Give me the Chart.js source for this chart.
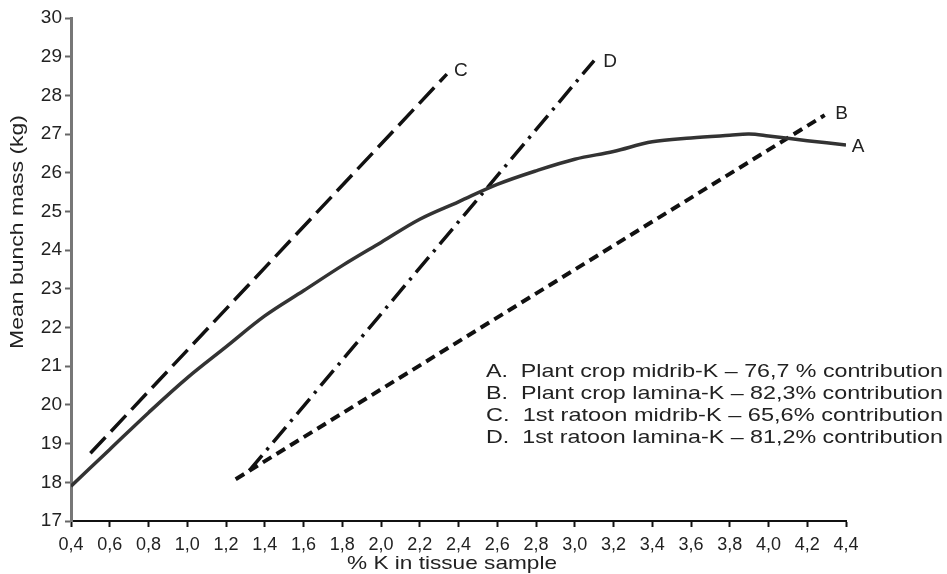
<!DOCTYPE html>
<html>
<head>
<meta charset="utf-8">
<title>Mean bunch mass vs % K in tissue sample</title>
<script src="https://cdn.jsdelivr.net/npm/chart.js@4/dist/chart.umd.min.js"></script>
<style>
    html, body { margin: 0; padding: 0; background: #fff; }
    canvas { display: block; }
</style>
</head>
<body>
<canvas id="kChart" width="947" height="574"></canvas>
<script>
// Axis ticks
const X_TICKS = [0.4, 0.6, 0.8, 1.0, 1.2, 1.4, 1.6, 1.8, 2.0, 2.2, 2.4, 2.6, 2.8, 3.0, 3.2, 3.4, 3.6, 3.8, 4.0, 4.2, 4.4];
const Y_TICKS = [17, 18, 19, 20, 21, 22, 23, 24, 25, 26, 27, 28, 29, 30];

// A: plant crop midrib-K (curve)
const A_X = [0.4, 0.6, 0.8, 1.0, 1.2, 1.4, 1.6, 1.8, 2.0, 2.2, 2.4, 2.6, 2.8, 3.0, 3.2, 3.4, 3.6, 3.8, 3.9, 4.0, 4.2, 4.4];
const A_Y = [17.9, 18.85, 19.8, 20.7, 21.5, 22.3, 22.95, 23.6, 24.2, 24.8, 25.25, 25.7, 26.05, 26.35, 26.55, 26.8, 26.9, 26.97, 27.0, 26.95, 26.83, 26.72];

// B: plant crop lamina-K (straight)
const B_X = [1.25, 4.29];
const B_Y = [18.08, 27.49];

// C: 1st ratoon midrib-K (straight)
const C_X = [0.5, 2.34];
const C_Y = [18.75, 28.55];

// D: 1st ratoon lamina-K (straight)
const D_X = [1.32, 3.1];
const D_Y = [18.3, 28.9];

const SERIES_NAMES = ['A', 'B', 'C', 'D'];
const LEGEND_LINES = [
    'A.  Plant crop midrib-K \u2013 76,7 % contribution',
    'B.  Plant crop lamina-K \u2013 82,3% contribution',
    'C.  1st ratoon midrib-K \u2013 65,6% contribution',
    'D.  1st ratoon lamina-K \u2013 81,2% contribution'
];

const FONT = "'Liberation Sans', Arial, sans-serif";
const INK = '#222';

function toPoints(xs, ys) {
    return xs.map((x, i) => ({ x: x, y: ys[i] }));
}

function fmtComma(v) {
    return v.toFixed(1).replace('.', ',');
}

// draw text left-aligned at x, stretched horizontally to a given width
function fitText(ctx, text, x, y, width, size) {
    ctx.font = size + 'px ' + FONT;
    const w = ctx.measureText(text).width;
    ctx.save();
    ctx.translate(x, y);
    ctx.scale(width / w, 1);
    ctx.textAlign = 'left';
    ctx.fillText(text, 0, 0);
    ctx.restore();
}

const annotations = {
    id: 'annotations',
    afterDatasetsDraw(chart) {
        const ctx = chart.ctx;
        ctx.save();
        ctx.fillStyle = INK;
        ctx.textBaseline = 'middle';

        // series letters beside the line ends
        const offsets = [[12, 2], [17, -1], [14, -3], [16, 1]];
        chart.data.datasets.forEach((ds, i) => {
            const meta = chart.getDatasetMeta(i);
            const last = meta.data[meta.data.length - 1];
            ctx.font = '19px ' + FONT;
            ctx.textAlign = 'center';
            ctx.fillText(SERIES_NAMES[i], last.x + offsets[i][0], last.y + offsets[i][1]);
        });

        // key text
        LEGEND_LINES.forEach((line, i) => {
            fitText(ctx, line, 486, 372 + i * 22, 457, 19);
        });

        // axis titles
        fitText(ctx, '% K in tissue sample', 347, 564, 210, 19);

        ctx.translate(18, 232);
        ctx.rotate(-Math.PI / 2);
        fitText(ctx, 'Mean bunch mass (kg)', -117, 0, 234, 19);
        ctx.restore();
    }
};

new Chart(document.getElementById('kChart'), {
    type: 'line',
    data: {
        datasets: [
            {
                label: 'A',
                data: toPoints(A_X, A_Y),
                borderColor: '#333',
                borderWidth: 3.5,
                tension: 0.35,
                pointRadius: 0
            },
            {
                label: 'B',
                data: toPoints(B_X, B_Y),
                borderColor: '#111',
                borderWidth: 4,
                borderDash: [10, 6],
                pointRadius: 0
            },
            {
                label: 'C',
                data: toPoints(C_X, C_Y),
                borderColor: '#111',
                borderWidth: 3.5,
                borderDash: [22, 8],
                pointRadius: 0
            },
            {
                label: 'D',
                data: toPoints(D_X, D_Y),
                borderColor: '#111',
                borderWidth: 3.5,
                borderDash: [20, 7, 3, 7],
                pointRadius: 0
            }
        ]
    },
    options: {
        responsive: false,
        animation: false,
        layout: {
            padding: { left: 0, top: 18, right: 101, bottom: 0 }
        },
        plugins: {
            legend: { display: false },
            tooltip: { enabled: false }
        },
        scales: {
            x: {
                type: 'linear',
                min: 0.4,
                max: 4.4,
                afterBuildTicks: scale => {
                    scale.ticks = X_TICKS.map(v => ({ value: v }));
                },
                afterFit: scale => { scale.height = 53; },
                border: { display: true, color: '#111', width: 2 },
                grid: {
                    drawOnChartArea: false,
                    drawTicks: true,
                    tickLength: 6,
                    tickWidth: 2,
                    tickColor: '#111'
                },
                ticks: {
                    autoSkip: false,
                    maxRotation: 0,
                    padding: 7,
                    color: INK,
                    font: { family: FONT, size: 18 },
                    callback: v => fmtComma(v)
                }
            },
            y: {
                min: 17,
                max: 30,
                afterBuildTicks: scale => {
                    scale.ticks = Y_TICKS.map(v => ({ value: v }));
                },
                afterFit: scale => { scale.width = 71; },
                border: { display: true, color: '#777', width: 3 },
                grid: {
                    drawOnChartArea: false,
                    drawTicks: true,
                    tickLength: 6,
                    tickWidth: 2,
                    tickColor: '#666'
                },
                ticks: {
                    autoSkip: false,
                    padding: 3,
                    color: INK,
                    font: { family: FONT, size: 19 }
                }
            }
        }
    },
    plugins: [annotations]
});
</script>
</body>
</html>
